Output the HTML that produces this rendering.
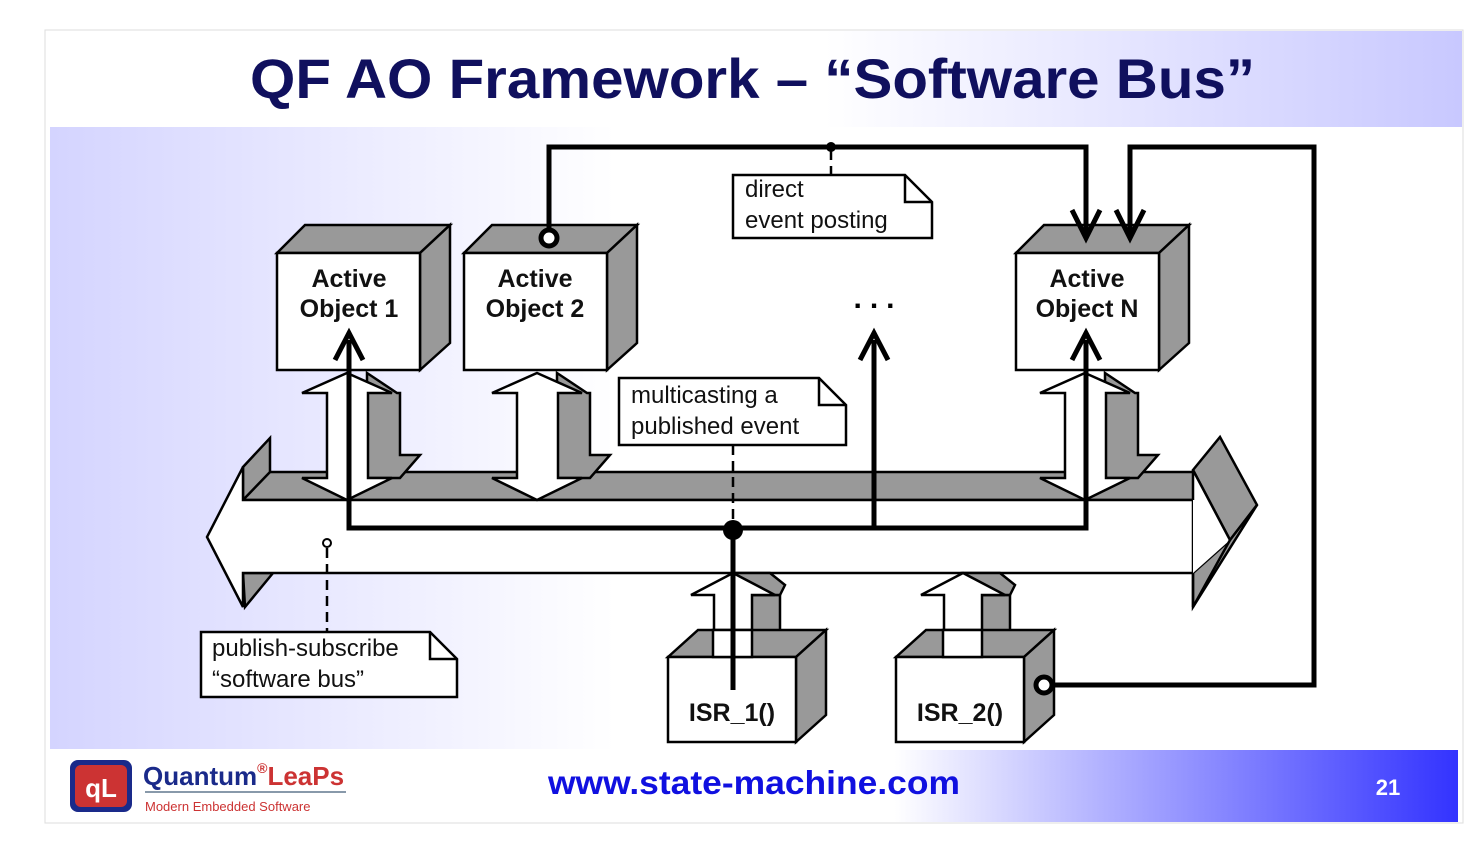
<!DOCTYPE html>
<html><head><meta charset="utf-8"><style>
html,body{margin:0;padding:0;background:#fff;}
svg{display:block;}
text{font-family:"Liberation Sans",Arial,sans-serif;}
</style></head><body>
<svg width="1479" height="861" viewBox="0 0 1479 861" xmlns="http://www.w3.org/2000/svg">
<defs>
<linearGradient id="tg" x1="0" x2="1" y1="0" y2="0">
<stop offset="0" stop-color="#ffffff"/><stop offset="0.55" stop-color="#ffffff"/><stop offset="1" stop-color="#c8c8ff"/></linearGradient>
<linearGradient id="bg" x1="0" x2="1" y1="0" y2="0">
<stop offset="0" stop-color="#d4d4ff"/><stop offset="0.4" stop-color="#ffffff"/><stop offset="1" stop-color="#ffffff"/></linearGradient>
<linearGradient id="fg" x1="0" x2="1" y1="0" y2="0">
<stop offset="0" stop-color="#ffffff"/><stop offset="0.6" stop-color="#ffffff"/><stop offset="0.75" stop-color="#b0b0ff"/><stop offset="1" stop-color="#3333ff"/></linearGradient>
</defs>
<rect x="45" y="30" width="1418" height="793" fill="#fff" stroke="#ddd"/>
<rect x="46" y="31" width="1416" height="96" fill="url(#tg)"/>
<rect x="50" y="127" width="1412" height="622" fill="url(#bg)"/>
<rect x="50" y="750" width="1408" height="72" fill="url(#fg)"/>
<text x="250" y="98" textLength="1005" lengthAdjust="spacingAndGlyphs" font-size="56" font-weight="bold" fill="#10105e">QF AO Framework – “Software Bus”</text>

<g stroke="#000" stroke-width="2.5" stroke-linejoin="miter">
<polygon points="243,472 1195,472 1195,500 243,500" fill="#999"/>
<polygon points="243,467 270,438 270,472 243,500" fill="#999"/>
<polygon points="243,573 273,573 245,607" fill="#999"/>
<polygon points="243,467 243,500 1193,500 1193,573 243,573 243,607 207,537" fill="#fff"/>
<polygon points="1193,470 1220,437 1257,505 1230,540" fill="#999"/>
<polygon points="1230,540 1257,505 1193,607 1193,573" fill="#999"/>
<polygon points="1193,500 1193,470 1230,540 1193,573" fill="#fff" stroke="none"/>
<polyline points="1193,500 1193,470 1230,540 1193,607 1193,573" fill="none"/>

<g id="da">
<polygon points="367,373 397,393 400,393 400,455 420,455 400,478 367,478" fill="#999"/>
<polygon points="347,373 392,393 368,393 368,478 392,478 347,500 302,478 327,478 327,393 302,393" fill="#fff"/>
</g>
<use href="#da" x="190"/>
<use href="#da" x="738"/>

<polygon points="750,595 780,595 780,657 750,657" fill="#999"/>
<polygon points="733,573 770,573 785,585 780,595 750,595" fill="#999"/>
<polygon points="733,573 775,595 752,595 752,657 714,657 714,595 691,595" fill="#fff"/>
<polygon points="980,595 1010,595 1010,657 980,657" fill="#999"/>
<polygon points="963,573 1000,573 1015,585 1010,595 980,595" fill="#999"/>
<polygon points="963,573 1005,595 982,595 982,657 944,657 944,595 921,595" fill="#fff"/>

<g id="ao">
<polygon points="277,253 305,225 450,225 420,253" fill="#999"/>
<polygon points="420,253 450,225 450,343 420,370" fill="#999"/>
<rect x="277" y="253" width="143" height="117" fill="#fff"/>
</g>
<use href="#ao" x="187"/>
<use href="#ao" x="739"/>

<g id="isr">
<polygon points="668,657 698,630 826,630 796,657" fill="#999"/>
<polygon points="796,657 826,630 826,715 796,742" fill="#999"/>
<rect x="668" y="657" width="128" height="85" fill="#fff"/>
</g>
<use href="#isr" x="228"/>
<polygon points="713,630 713,657 752,657 752,630" fill="#fff"/>
<polygon points="943,630 943,657 982,657 982,630" fill="#fff"/>
</g>

<g font-weight="bold" font-size="25" fill="#111" text-anchor="middle">
<text x="349" y="287">Active</text><text x="349" y="317">Object 1</text>
<text x="535" y="287">Active</text><text x="535" y="317">Object 2</text>
<text x="1087" y="287">Active</text><text x="1087" y="317">Object N</text>
<text x="732" y="721">ISR_1()</text>
<text x="960" y="721">ISR_2()</text>
</g>
<text x="878" y="308" font-size="30" font-weight="bold" text-anchor="middle" letter-spacing="8">...</text>

<g stroke="#000" stroke-width="5" fill="none">
<polyline points="349,340 349,528 1086,528 1086,340"/>
<line x1="874" y1="528" x2="874" y2="340"/>
<polyline points="335,360 349,333 363,360"/>
<polyline points="860,360 874,333 888,360"/>
<polyline points="1072,360 1086,333 1100,360"/>
<line x1="733" y1="530" x2="733" y2="690"/>
<polyline points="549,232 549,147 1086,147 1086,238"/>
<polyline points="1072,210 1086,238 1100,210"/>
<polyline points="1048,685 1314,685 1314,147 1130,147 1130,238"/>
<polyline points="1116,210 1130,238 1144,210"/>
</g>
<g stroke="#000" stroke-width="5" fill="#fff">
<circle cx="549" cy="238" r="8"/>
<circle cx="1044" cy="685" r="8"/>
</g>
<circle cx="733" cy="530" r="10" fill="#000"/>
<circle cx="831" cy="147" r="5" fill="#000"/>
<circle cx="327" cy="543" r="4" fill="#fff" stroke="#000" stroke-width="2"/>
<g stroke="#000" stroke-width="2.5" stroke-dasharray="10,6">
<line x1="831" y1="150" x2="831" y2="175"/>
<line x1="733" y1="445" x2="733" y2="520"/>
<line x1="327" y1="548" x2="327" y2="632"/>
</g>

<g stroke="#000" stroke-width="2.5" fill="#fff">
<polygon points="733,175 905,175 932,202 932,238 733,238"/>
<polyline points="905,175 905,202 932,202" fill="none"/>
<polygon points="619,378 819,378 846,405 846,445 619,445"/>
<polyline points="819,378 819,405 846,405" fill="none"/>
<polygon points="201,632 430,632 457,659 457,697 201,697"/>
<polyline points="430,632 430,659 457,659" fill="none"/>
</g>
<g font-size="24" fill="#111">
<text x="745" y="197">direct</text><text x="745" y="228">event posting</text>
<text x="631" y="403">multicasting a</text><text x="631" y="434">published event</text>
<text x="212" y="656">publish-subscribe</text><text x="212" y="687">“software bus”</text>
</g>

<rect x="70" y="760" width="62" height="52" rx="8" fill="#1a2a8a"/>
<rect x="75" y="765" width="52" height="42" rx="6" fill="#c33"/>
<text x="101" y="797" font-size="26" font-weight="bold" fill="#fff" text-anchor="middle">qL</text>
<text x="143" y="785" font-size="26" font-weight="bold" fill="#1a2a8a">Quantum<tspan fill="#c33" font-size="14" dy="-12">®</tspan><tspan fill="#c33" dy="12">LeaPs</tspan></text>
<line x1="145" y1="792" x2="346" y2="792" stroke="#8899aa" stroke-width="2"/>
<text x="145" y="811" font-size="13" fill="#c33">Modern Embedded Software</text>
<text x="548" y="794" textLength="412" lengthAdjust="spacingAndGlyphs" font-size="33" font-weight="bold" fill="#1010e0">www.state-machine.com</text>
<text x="1388" y="795" font-size="22" font-weight="bold" fill="#fff" text-anchor="middle">21</text>
</svg>
</body></html>
